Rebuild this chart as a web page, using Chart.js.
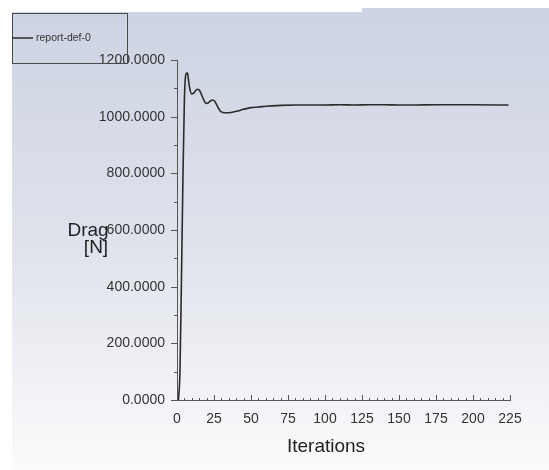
<!DOCTYPE html>
<html lang="en">
<head>
  <meta charset="utf-8" />
  <title>report-def-0</title>
  <script src="https://cdn.jsdelivr.net/npm/chart.js@4.4.0/dist/chart.umd.min.js"></script>
  <style>
    html, body { margin: 0; padding: 0; background: #fff; }
    #wrap { width: 549px; height: 470px; }
  </style>
</head>
<body>
<div id="wrap"><canvas id="myChart" width="549" height="470"></canvas></div>

<script>
// Values
const iterations = [1, 2, 3, 4, 5, 6, 7, 8, 9, 10, 11, 12, 13, 14, 15, 16, 17, 18, 19, 20,
  21, 22, 23, 24, 25, 26, 27, 28, 29, 30, 32, 35, 40, 45, 50, 55, 60, 70, 80, 90,
  100, 110, 120, 130, 140, 150, 160, 175, 200, 224];
const drag = [0, 100, 420, 780, 1060, 1150, 1155, 1120, 1090, 1080, 1082, 1088, 1095, 1097, 1094, 1085, 1072, 1060, 1050, 1047,
  1048, 1053, 1057, 1059, 1057, 1050, 1040, 1030, 1022, 1017, 1014, 1014, 1019, 1026, 1032, 1034, 1037, 1040, 1041, 1041,
  1041, 1042, 1041, 1042, 1042, 1041, 1041, 1042, 1042, 1041];

const seriesName = 'report-def-0';
const xTitle = 'Iterations';
const yTitle = ['Drag', '[N]'];

const points = iterations.map((x, i) => ({ x: x, y: drag[i] }));

const axisColor = '#555555';
const textColor = '#333333';

// background gradient panel, like the solver window
const backgroundPanel = {
  id: 'backgroundPanel',
  beforeDraw(chart) {
    const ctx = chart.ctx;
    const g = ctx.createLinearGradient(0, 8, 0, 470);
    g.addColorStop(0, '#cdd3e3');
    g.addColorStop(0.5, '#dfe2eb');
    g.addColorStop(1, '#fbfbfc');
    ctx.save();
    ctx.fillStyle = g;
    ctx.fillRect(12, 12, 350, 458);
    ctx.fillRect(362, 8, 187, 462);
    ctx.restore();
  }
};

// tick marks, axis titles and the boxed legend
const decorations = {
  id: 'decorations',
  afterDraw(chart) {
    const ctx = chart.ctx;
    const xs = chart.scales.x;
    const ys = chart.scales.y;
    const area = chart.chartArea;
    ctx.save();
    ctx.strokeStyle = axisColor;
    ctx.lineWidth = 1;
    ctx.beginPath();
    // y ticks: major outward, minor shorter
    for (let v = 0; v <= 1200; v += 100) {
      const py = Math.round(ys.getPixelForValue(v)) + 0.5;
      const len = v % 200 === 0 ? 6 : 3;
      ctx.moveTo(area.left - len, py);
      ctx.lineTo(area.left, py);
    }
    // x ticks: point inward
    for (let v = 0; v <= 225; v += 5) {
      const px = Math.round(xs.getPixelForValue(v)) + 0.5;
      const len = v % 25 === 0 ? 5 : 2;
      ctx.moveTo(px, area.bottom);
      ctx.lineTo(px, area.bottom - len);
    }
    ctx.stroke();

    // titles
    ctx.fillStyle = '#222222';
    ctx.font = '19px "Liberation Sans", Arial, sans-serif';
    ctx.textAlign = 'center';
    ctx.textBaseline = 'middle';
    ctx.fillText(yTitle[0], 88, 231);
    ctx.fillText(yTitle[1], 96, 248);
    ctx.fillText(xTitle, 326, 447);

    // legend box
    ctx.strokeStyle = '#4a4a4a';
    ctx.strokeRect(12.5, 13.5, 115, 50);
    ctx.strokeStyle = '#2b2b2b';
    ctx.lineWidth = 1.5;
    ctx.beginPath();
    ctx.moveTo(12, 38);
    ctx.lineTo(33, 38);
    ctx.stroke();
    ctx.fillStyle = textColor;
    ctx.font = '10.5px "Liberation Sans", Arial, sans-serif';
    ctx.textAlign = 'left';
    ctx.fillText(seriesName, 36, 38);
    ctx.restore();
  }
};

window.addEventListener('load', () => {
  const ctx = document.getElementById('myChart').getContext('2d');
  new Chart(ctx, {
    type: 'line',
    data: {
      datasets: [{
        label: seriesName,
        data: points,
        borderColor: '#2b2b2b',
        borderWidth: 1.6,
        pointRadius: 0,
        tension: 0.35,
        cubicInterpolationMode: 'monotone',
        fill: false
      }]
    },
    options: {
      responsive: false,
      animation: false,
      layout: { padding: { top: 60, right: 39, left: 0, bottom: 0 } },
      plugins: {
        legend: { display: false },
        tooltip: { enabled: false }
      },
      scales: {
        x: {
          type: 'linear',
          min: 0,
          max: 225,
          ticks: {
            stepSize: 25,
            padding: 11,
            color: textColor,
            font: { family: '"Liberation Sans", Arial, sans-serif', size: 14 }
          },
          grid: { display: false, drawTicks: false },
          border: { display: true, color: axisColor, width: 1 },
          afterFit(scale) { scale.height = 70; }
        },
        y: {
          min: 0,
          max: 1200,
          ticks: {
            stepSize: 200,
            padding: 12,
            color: textColor,
            font: { family: '"Liberation Sans", Arial, sans-serif', size: 14 },
            callback: (v) => Number(v).toFixed(4)
          },
          grid: { display: false, drawTicks: false },
          border: { display: true, color: axisColor, width: 1 },
          afterFit(scale) { scale.width = 177; }
        }
      }
    },
    plugins: [backgroundPanel, decorations]
  });
});
</script>
</body>
</html>
